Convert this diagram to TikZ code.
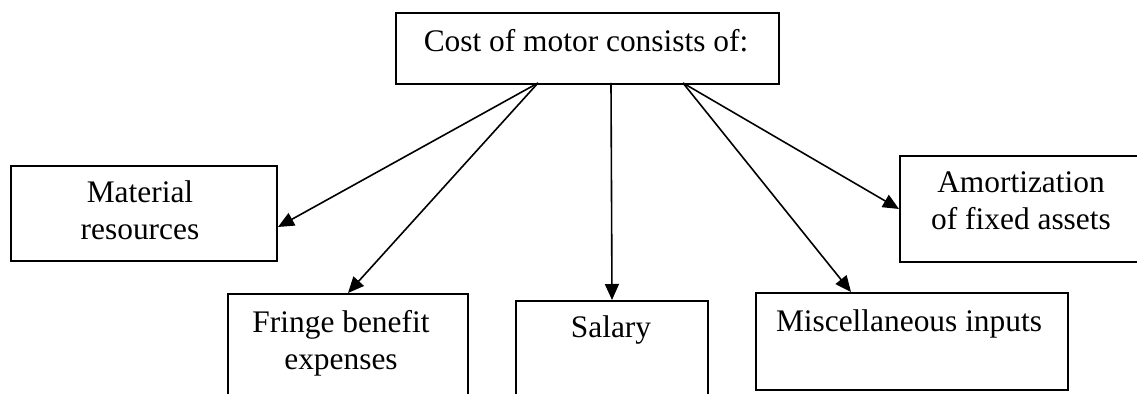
\documentclass[tikz,border=0pt]{standalone}
\usepackage{fontspec}
\setmainfont{Liberation Serif}
\usetikzlibrary{arrows.meta}
\tikzset{
  box/.style={draw, line width=1pt, rectangle, anchor=north west, inner sep=0pt},
  lbl/.style={anchor=base, align=center, inner sep=0pt, font=\fontsize{15.7}{18.5}\selectfont},
  link/.style={-{Triangle[length=8pt,width=7pt]}, line width=0.8pt}
}
\begin{document}
\begin{tikzpicture}[x=0.5pt,y=-0.5pt]
  \useasboundingbox (0,0) rectangle (1137,394);
  \clip (0,0) rectangle (1137,394);
  \path (395,12) node[box, minimum width=191.5pt, minimum height=35.5pt] (cost) {};
  \path (10,165) node[box, minimum width=133pt, minimum height=47.5pt] (mat) {};
  \path (227,293) node[box, minimum width=120pt, minimum height=60pt] (fringe) {};
  \path (515,300) node[box, minimum width=96pt, minimum height=60pt] (salary) {};
  \path (755,292) node[box, minimum width=156pt, minimum height=48.5pt] (misc) {};
  \path (899,155) node[box, minimum width=122pt, minimum height=53pt] (amort) {};

  \path (586,52) node[lbl] (costT) {Cost of motor consists of:};
  \path (140,240) node[lbl] (matT) {Material\\resources};
  \path (341,370) node[lbl] (fringeT) {Fringe benefit\\expenses};
  \path (611,338) node[lbl] (salaryT) {Salary};
  \path (909,332) node[lbl] (miscT) {Miscellaneous inputs};
  \path (1021,230) node[lbl] (amortT) {Amortization\\of fixed assets};

  \coordinate (sL) at (538,83);
  \coordinate (sC) at (611,83);
  \coordinate (sR) at (683,83);
  \draw[link] (sL) -- ([yshift=-6.75pt]mat.east);
  \draw[link] (sL) -- (fringe.north);
  \draw[link] (sC) -- (salary.north);
  \draw[link] (sR) -- ([xshift=-30.5pt]misc.north);
  \draw[link] (sR) -- (amort.west);
\end{tikzpicture}
\end{document}
